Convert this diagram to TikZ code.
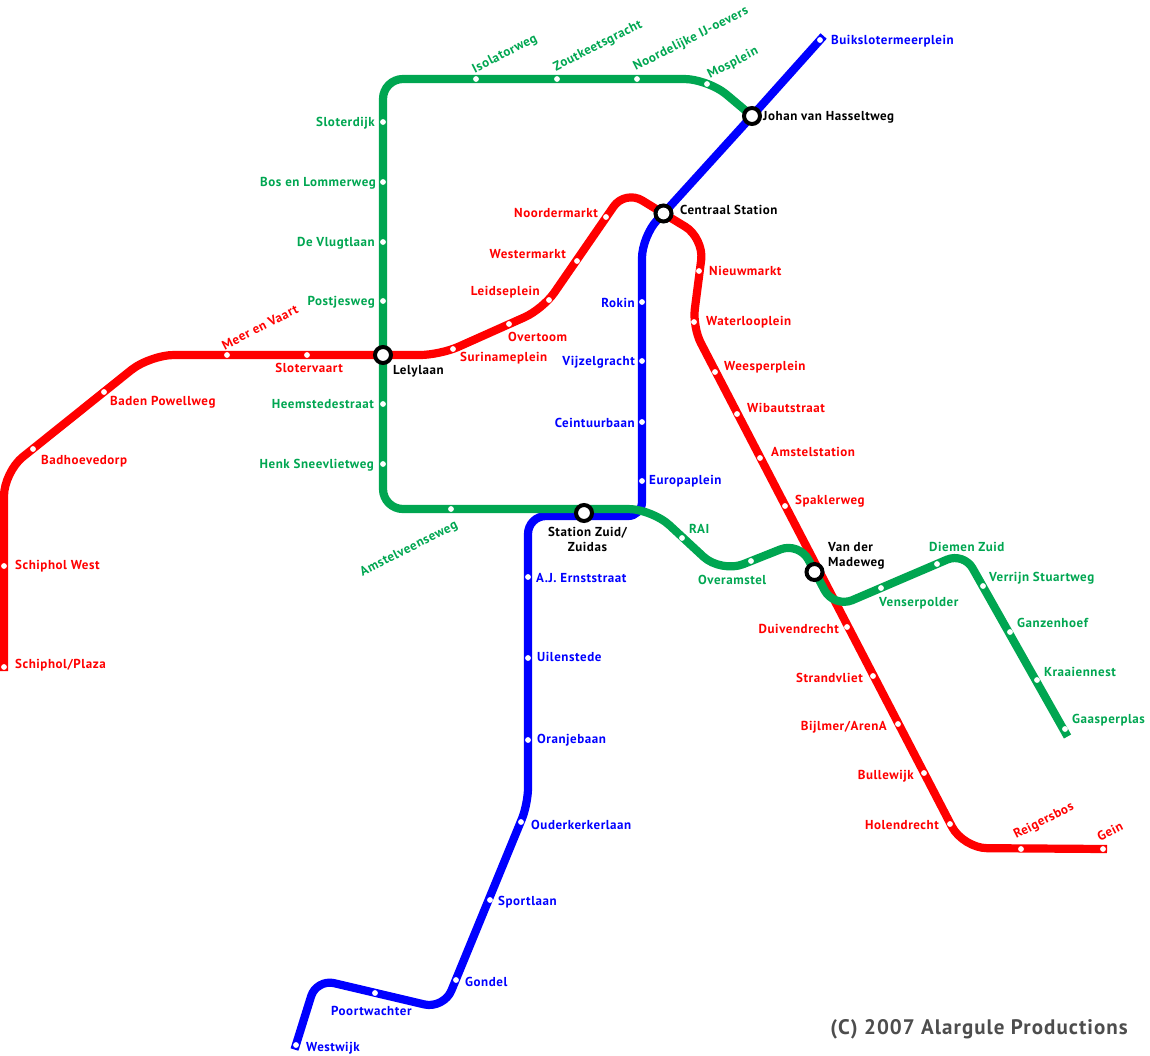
\documentclass[tikz,border=0pt]{standalone}
\usepackage{fontspec}
\setmainfont[LetterSpace=4.2]{PT Sans}
\newfontfamily\crfont[LetterSpace=5]{PT Sans}
\pgfdeclarelayer{lines}
\pgfsetlayers{lines,main}
\definecolor{lgreen}{HTML}{00A651}
\definecolor{lred}{HTML}{FF0000}
\definecolor{lblue}{HTML}{0000FF}
\definecolor{crgrey}{HTML}{4D4D4D}
\tikzset{
  metro/.style={line width=8.2pt,line cap=butt,line join=round},
  dot/.style={circle,fill=white,draw=none,inner sep=0pt,minimum size=5.8pt},
  hub/.style={circle,fill=white,draw=black,line width=4pt,inner sep=0pt,minimum size=16pt},
  lab/.style={font=\bfseries\fontsize{13}{15}\selectfont,inner sep=0pt,yshift=-1.2pt},
  gl/.style={lab,text=lgreen},
  rl/.style={lab,text=lred},
  bl/.style={lab,text=lblue},
  kl/.style={lab,text=black},
}
% \stn{style}{name}{x,y}{anchor}{lx,ly}{text}
\newcommand{\stn}[6]{%
  \node[dot] (#2) at (#3) {};
  \node[#1,anchor=#4] (#2-t) at (#5) {#6};}
% rotated label
\newcommand{\stnr}[5]{%
  \node[dot] (#2) at (#3) {};
  \node[#1,rotate=27] (#2-t) at (#4) {#5};}
\begin{document}
\begin{tikzpicture}[x=1pt,y=-1pt]
\useasboundingbox (0,0) rectangle (1150,1055);
% interchange hubs
\node[hub] (johan) at (752,116) {};
\node[hub] (centraal) at (663.5,213.5) {};
\node[hub] (lelylaan) at (383,355) {};
\node[hub] (zuid) at (584,513) {};
\node[hub] (madeweg) at (814.5,572) {};
\node[kl,anchor=west] (johan-t) at (763,116) {Johan van Hasseltweg};
\node[kl,anchor=west] (centraal-t) at (680,208.5) {Centraal Station};
\node[kl,anchor=west] (lelylaan-t) at (393,370) {Lelylaan};
\node[kl,align=center,anchor=center] (zuid-t) at (587.5,538) {Station Zuid/\\Zuidas};
\node[kl,align=left,anchor=west] (madeweg-t) at (828,555) {Van der\\Madeweg};
% green stations
\stnr{gl}{isolator}{476,79}{505,53}{Isolatorweg}
\stnr{gl}{zoutkeets}{557,79}{598,45}{Zoutkeetsgracht}
\stnr{gl}{noordelijke}{637,79}{691,38}{Noordelijke IJ-oevers}
\stnr{gl}{mosplein}{707,84}{733,62}{Mosplein}
\stn{gl}{sloterdijk}{383,122}{east}{375,122}{Sloterdijk}
\stn{gl}{boslommer}{383,182}{east}{376,182}{Bos en Lommerweg}
\stn{gl}{vlugtlaan}{383,242}{east}{375,242}{De Vlugtlaan}
\stn{gl}{postjes}{383,301}{east}{375,301}{Postjesweg}
\stn{gl}{heemstede}{383,404}{east}{374,403}{Heemstedestraat}
\stn{gl}{henk}{383,464}{east}{374,464}{Henk Sneevlietweg}
\stnr{gl}{amstelveen}{451,509}{409,548}{Amstelveenseweg}
\stn{gl}{rai}{682,538}{west}{689,528}{RAI}
\stn{gl}{overamstel}{751,561}{west}{698,579}{Overamstel}
\stn{gl}{venser}{881,588}{west}{879,602}{Venserpolder}
\stn{gl}{diemen}{937,564}{west}{929,546}{Diemen Zuid}
\stn{gl}{verrijn}{983,586}{west}{989,577}{Verrijn Stuartweg}
\stn{gl}{ganzenhoef}{1010,632}{west}{1017,622}{Ganzenhoef}
\stn{gl}{kraaiennest}{1037,680}{west}{1044,671}{Kraaiennest}
\stn{gl}{gaasperplas}{1065,729}{west}{1072,719}{Gaasperplas}
% red stations
\stn{rl}{plaza}{4,667}{west}{15,664}{Schiphol/Plaza}
\stn{rl}{schipholw}{4,566}{west}{15,565}{Schiphol West}
\stn{rl}{badhoeve}{33,449}{west}{41,460}{Badhoevedorp}
\stn{rl}{baden}{104,392}{west}{110,401}{Baden Powellweg}
\stnr{rl}{meer}{227,355}{260,326}{Meer en Vaart}
\stn{rl}{sloter}{307,355}{east}{343,367}{Slotervaart}
\stn{rl}{suriname}{453,349}{west}{460,357}{Surinameplein}
\stn{rl}{overtoom}{509,324}{west}{508,336}{Overtoom}
\stn{rl}{leidse}{549,300}{east}{540,291}{Leidseplein}
\stn{rl}{wester}{577,261}{east}{566,253}{Westermarkt}
\stn{rl}{noorder}{606,217}{east}{598,212}{Noordermarkt}
\stn{rl}{nieuw}{699,271}{west}{709,270}{Nieuwmarkt}
\stn{rl}{waterloo}{694,322}{west}{706,321}{Waterlooplein}
\stn{rl}{weesper}{715,372}{west}{724,366}{Weesperplein}
\stn{rl}{wibaut}{737,414}{west}{747,407}{Wibautstraat}
\stn{rl}{amstel}{760,458}{west}{771,451}{Amstelstation}
\stn{rl}{spakler}{785,506}{west}{795,500}{Spaklerweg}
\stn{rl}{duiven}{847,627}{east}{839,628}{Duivendrecht}
\stn{rl}{strand}{873,676}{east}{863,677}{Strandvliet}
\stn{rl}{bijlmer}{898,724}{east}{887,726}{Bijlmer/ArenA}
\stn{rl}{bulle}{924,773}{east}{914,775}{Bullewijk}
\stn{rl}{holen}{950,824}{east}{939,824}{Holendrecht}
\stnr{rl}{reigers}{1021,849}{1044,820}{Reigersbos}
\stnr{rl}{gein}{1103,849}{1110,830}{Gein}
% blue stations
\stn{bl}{buik}{820,40}{west}{831,40}{Buikslotermeerplein}
\stn{bl}{rokin}{642,302}{east}{635,302}{Rokin}
\stn{bl}{vijzel}{642,361}{east}{635,361}{Vijzelgracht}
\stn{bl}{ceintuur}{642,422}{east}{635,422}{Ceintuurbaan}
\stn{bl}{europa}{642,481}{west}{649,480}{Europaplein}
\stn{bl}{ernst}{528,577}{west}{536,577}{A.J. Ernststraat}
\stn{bl}{uilen}{528,658}{west}{537,656}{Uilenstede}
\stn{bl}{oranje}{528,740}{west}{537,739}{Oranjebaan}
\stn{bl}{ouder}{521,822}{west}{531,824}{Ouderkerkerlaan}
\stn{bl}{sport}{490,900}{west}{498,901}{Sportlaan}
\stn{bl}{gondel}{456,980}{west}{465,981}{Gondel}
\stn{bl}{poort}{375,993}{west}{331,1010}{Poortwachter}
\stn{bl}{westwijk}{296,1045}{west}{306,1047}{Westwijk}
% copyright
\node[font=\crfont\bfseries\fontsize{21}{24}\selectfont,text=crgrey,inner sep=0pt,anchor=east] (credit) at (1128,1029) {(C) 2007 Alargule Productions};
% free ends
\coordinate (bend0) at (823.6,36);
\coordinate (bend1) at (294.5,1049.5);
\coordinate (rend0) at (4,671);
\coordinate (rend1) at (1107,849);
\coordinate (gend1) at (1067.5,736.5);
\begin{pgfonlayer}{lines}
% blue line
\draw[metro,draw=lblue] (bend0) -- (johan.center) -- (centraal.center)
  [rounded corners=22pt] -- (642,236)
  [rounded corners=14pt] -- (642,516)
  [rounded corners=18pt] -- (528,516)
  [rounded corners=16pt] -- (528,804)
  [rounded corners=20pt] -- (443.8,1009)
  [rounded corners=18pt] -- (316.5,979)
  [sharp corners] -- (bend1);
% red line
\draw[metro,draw=lred] (rend0)
  [rounded corners=24pt] -- (4,472)
  [rounded corners=24pt] -- (150,355)
  [sharp corners] -- (lelylaan.center)
  [rounded corners=20pt] -- (440,355)
  [rounded corners=20pt] -- (543,309)
  [rounded corners=20pt] -- (625,190)
  [sharp corners] -- (centraal.center)
  [rounded corners=22pt] -- (704,238)
  [rounded corners=18pt] -- (692.5,327)
  [rounded corners=24pt] -- (963,848)
  [sharp corners] -- (rend1);
% green line
\draw[metro,draw=lgreen] (johan.center)
  [rounded corners=24pt] -- (708,79)
  [rounded corners=20pt] -- (383,79)
  [rounded corners=20pt] -- (383,509)
  [rounded corners=24pt] -- (652,509)
  [rounded corners=24pt] -- (721,573)
  [rounded corners=20pt] -- (799,542)
  [rounded corners=20pt] -- (834,608)
  [rounded corners=18pt] -- (963.7,552.5)
  [sharp corners] -- (gend1);
\end{pgfonlayer}
\end{tikzpicture}
\end{document}
